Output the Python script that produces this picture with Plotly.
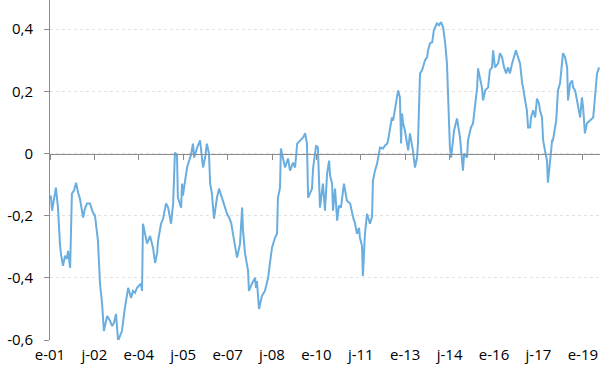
import plotly.graph_objects as go

years = [2001.03, 2001.07, 2001.20, 2001.24, 2001.27, 2001.34, 2001.37, 2001.44, 2001.51, 2001.57,
         2001.61, 2001.68, 2001.74, 2001.81, 2001.88, 2001.95, 2002.01, 2002.08, 2002.12, 2002.18,
         2002.25, 2002.35, 2002.45, 2002.52, 2002.59, 2002.62, 2002.69, 2002.76, 2002.82, 2002.93,
         2003.03, 2003.10, 2003.16, 2003.23, 2003.30, 2003.37, 2003.43, 2003.53, 2003.64, 2003.74,
         2003.80, 2003.87, 2003.94, 2004.07, 2004.11, 2004.14, 2004.21, 2004.28, 2004.38, 2004.48,
         2004.55, 2004.62, 2004.65, 2004.75, 2004.82, 2004.92, 2004.99, 2005.05, 2005.09, 2005.16,
         2005.22, 2005.29, 2005.32, 2005.43, 2005.46, 2005.49, 2005.56, 2005.63, 2005.70, 2005.76,
         2005.83, 2005.87, 2005.97, 2006.07, 2006.17, 2006.24, 2006.30, 2006.37, 2006.41, 2006.47,
         2006.54, 2006.64, 2006.71, 2006.78, 2006.85, 2006.91, 2006.98, 2007.05, 2007.12, 2007.18,
         2007.25, 2007.32, 2007.42, 2007.49, 2007.52, 2007.59, 2007.69, 2007.72, 2007.82, 2007.93,
         2007.96, 2007.99, 2008.06, 2008.16, 2008.26, 2008.37, 2008.43, 2008.50, 2008.60, 2008.67,
         2008.70, 2008.77, 2008.80, 2008.87, 2008.94, 2009.04, 2009.11, 2009.21, 2009.28, 2009.35,
         2009.45, 2009.55, 2009.62, 2009.68, 2009.72, 2009.78, 2009.85, 2009.89, 2009.99, 2010.05,
         2010.12, 2010.22, 2010.29, 2010.36, 2010.43, 2010.46, 2010.53, 2010.56, 2010.63, 2010.70,
         2010.76, 2010.83, 2010.93, 2011.03, 2011.14, 2011.24, 2011.30, 2011.37, 2011.44, 2011.47,
         2011.54, 2011.57, 2011.64, 2011.71, 2011.81, 2011.88, 2011.91, 2011.98, 2012.05, 2012.15,
         2012.25, 2012.32, 2012.39, 2012.42, 2012.49, 2012.55, 2012.59, 2012.66, 2012.72, 2012.76,
         2012.82, 2012.86, 2012.89, 2012.93, 2012.99, 2013.06, 2013.10, 2013.16, 2013.23, 2013.26,
         2013.33, 2013.40, 2013.43, 2013.50, 2013.57, 2013.60, 2013.67, 2013.74, 2013.77, 2013.84,
         2013.91, 2013.97, 2014.07, 2014.14, 2014.21, 2014.28, 2014.35, 2014.41, 2014.45, 2014.48,
         2014.51, 2014.55, 2014.58, 2014.62, 2014.65, 2014.75, 2014.78, 2014.85, 2014.92, 2014.95,
         2014.99, 2015.09, 2015.12, 2015.22, 2015.29, 2015.39, 2015.43, 2015.46, 2015.53, 2015.59,
         2015.63, 2015.70, 2015.80, 2015.86, 2015.93, 2015.97, 2016.03, 2016.14, 2016.20, 2016.27,
         2016.34, 2016.41, 2016.47, 2016.54, 2016.61, 2016.68, 2016.74, 2016.81, 2016.88, 2016.95,
         2016.98, 2017.05, 2017.11, 2017.15, 2017.22, 2017.25, 2017.32, 2017.39, 2017.45, 2017.52,
         2017.55, 2017.62, 2017.66, 2017.72, 2017.79, 2017.82, 2017.86, 2017.93, 2017.96, 2017.99,
         2018.10, 2018.16, 2018.23, 2018.30, 2018.33, 2018.40, 2018.47, 2018.50, 2018.57, 2018.64,
         2018.67, 2018.74, 2018.84, 2018.91, 2018.97, 2019.01, 2019.07, 2019.14, 2019.24, 2019.35,
         2019.41, 2019.48, 2019.55]

values = [-0.135, -0.184, -0.110, -0.152, -0.174, -0.297, -0.323, -0.361, -0.329, -0.339,
          -0.313, -0.368, -0.129, -0.119, -0.094, -0.126, -0.145, -0.184, -0.206, -0.177,
          -0.161, -0.161, -0.190, -0.200, -0.248, -0.281, -0.419, -0.484, -0.571, -0.523,
          -0.539, -0.555, -0.545, -0.516, -0.603, -0.587, -0.571, -0.497, -0.432, -0.465,
          -0.442, -0.448, -0.432, -0.419, -0.442, -0.226, -0.255, -0.290, -0.265, -0.303,
          -0.352, -0.319, -0.281, -0.226, -0.210, -0.161, -0.174, -0.216, -0.226, -0.161,
          0.003, -0.005, -0.142, -0.174, -0.097, -0.135, -0.087, -0.045, -0.023, -0.006,
          0.032, -0.013, 0.019, 0.042, -0.045, -0.013, 0.032, 0.000, -0.097, -0.129,
          -0.210, -0.142, -0.113, -0.135, -0.152, -0.174, -0.194, -0.206, -0.223, -0.258,
          -0.297, -0.335, -0.290, -0.174, -0.248, -0.323, -0.377, -0.442, -0.419, -0.400,
          -0.432, -0.410, -0.500, -0.458, -0.442, -0.400, -0.352, -0.303, -0.271, -0.258,
          -0.142, -0.110, 0.016, -0.013, -0.045, -0.016, -0.055, -0.029, -0.045, 0.032,
          0.042, 0.052, 0.065, 0.032, -0.142, -0.126, -0.113, -0.045, 0.026, 0.019,
          -0.174, -0.097, -0.184, -0.065, -0.023, -0.071, -0.097, -0.184, -0.113, -0.216,
          -0.168, -0.174, -0.097, -0.152, -0.161, -0.206, -0.223, -0.258, -0.239, -0.271,
          -0.297, -0.394, -0.258, -0.194, -0.226, -0.203, -0.087, -0.055, -0.032, 0.019,
          0.016, 0.026, 0.032, 0.042, 0.084, 0.116, 0.106, 0.148, 0.181, 0.203,
          0.181, 0.032, 0.129, 0.097, 0.074, 0.032, 0.010, 0.065, 0.032, 0.010,
          -0.045, -0.013, 0.032, 0.258, 0.268, 0.277, 0.300, 0.310, 0.332, 0.355,
          0.358, 0.397, 0.419, 0.413, 0.423, 0.406, 0.355, 0.290, 0.161, 0.052,
          0.019, -0.013, 0.010, 0.032, 0.074, 0.113, 0.097, 0.052, -0.023, -0.055,
          0.000, -0.013, 0.042, 0.084, 0.097, 0.194, 0.213, 0.274, 0.235, 0.213,
          0.171, 0.203, 0.213, 0.268, 0.277, 0.332, 0.277, 0.290, 0.323, 0.310,
          0.277, 0.258, 0.277, 0.258, 0.290, 0.310, 0.332, 0.310, 0.290, 0.226,
          0.213, 0.171, 0.139, 0.084, 0.084, 0.116, 0.139, 0.116, 0.177, 0.161,
          0.139, 0.116, 0.042, 0.010, -0.023, -0.094, -0.061, 0.010, 0.042, 0.042,
          0.106, 0.203, 0.226, 0.300, 0.323, 0.310, 0.277, 0.171, 0.226, 0.235,
          0.213, 0.203, 0.148, 0.116, 0.181, 0.148, 0.065, 0.097, 0.106, 0.116,
          0.181, 0.258, 0.277]

x_tick_vals = [2001, 2002.5, 2004, 2005.5, 2007, 2008.5, 2010, 2011.5, 2013, 2014.5, 2016, 2017.5, 2019]
x_tick_text = ["e-01", "j-02", "e-04", "j-05", "e-07", "j-08", "e-10", "j-11", "e-13", "j-14", "e-16", "j-17", "e-19"]
y_tick_vals = [-0.6, -0.4, -0.2, 0, 0.2, 0.4]
y_tick_text = ["-0,6", "-0,4", "-0,2", "0", "0,2", "0,4"]

x_range = [2001, 2019.58]
y_range = [-0.6, 0.494]

fig = go.Figure()
fig.add_trace(go.Scatter(x=years, y=values, mode="lines",
                         line=dict(color="#6aaee0", width=2), showlegend=False))

axis_font = dict(family="Open Sans, Lato, sans-serif", size=15, color="#000000")

fig.update_layout(
    width=600, height=374,
    margin=dict(l=50, r=0, t=0, b=34, autoexpand=False),
    paper_bgcolor="white", plot_bgcolor="white",
    xaxis=dict(range=x_range, tickvals=x_tick_vals, ticktext=x_tick_text,
               showgrid=False, zeroline=False, showline=False, ticks="",
               tickfont=axis_font, ticklabelstandoff=4, automargin=False),
    xaxis2=dict(range=x_range, overlaying="x", anchor="free",
                position=(0 - y_range[0]) / (y_range[1] - y_range[0]),
                tickvals=x_tick_vals, showticklabels=False, showgrid=False,
                zeroline=False, showline=True, linecolor="#8c8c8c", linewidth=1,
                ticks="outside", ticklen=5, tickcolor="#8c8c8c", tickwidth=1,
                automargin=False),
    yaxis=dict(range=y_range, tickvals=y_tick_vals, ticktext=y_tick_text,
               showgrid=True, gridcolor="#e2e2e2", griddash="dot", gridwidth=1,
               zeroline=False, showline=True, linecolor="#8c8c8c", linewidth=1,
               ticks="outside", ticklen=5, tickcolor="#8c8c8c",
               tickfont=axis_font, ticklabelstandoff=8, automargin=False),
)
# invisible trace on the secondary x-axis so it renders
fig.add_trace(go.Scatter(x=[x_range[0]], y=[0], xaxis="x2", mode="markers",
                         marker=dict(opacity=0), showlegend=False, hoverinfo="skip"))

fig.write_html("out.html", config={"displayModeBar": False},
               post_script="document.body.style.margin='0';document.body.style.overflow='hidden';")
